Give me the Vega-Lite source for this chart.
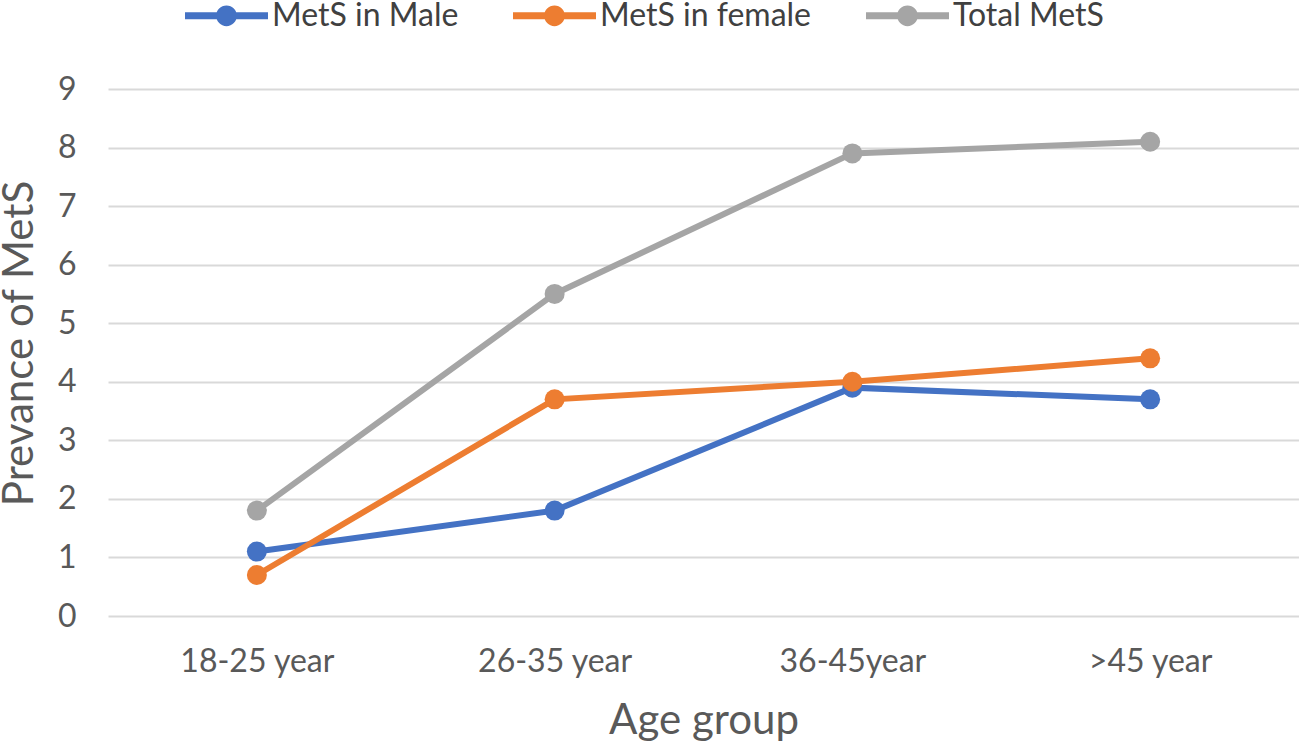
{
  "$schema": "https://vega.github.io/schema/vega-lite/v6.json",
  "autosize": "none",
  "width": 1191,
  "height": 527,
  "padding": {"left": 108, "top": 89, "right": 0, "bottom": 128},
  "background": "white",
  "data": {
    "values": [
      {"age": "18-25 year", "series": "MetS in Male", "value": 1.1},
      {"age": "26-35 year", "series": "MetS in Male", "value": 1.8},
      {"age": "36-45year", "series": "MetS in Male", "value": 3.9},
      {"age": ">45 year", "series": "MetS in Male", "value": 3.7},
      {"age": "18-25 year", "series": "MetS in female", "value": 0.7},
      {"age": "26-35 year", "series": "MetS in female", "value": 3.7},
      {"age": "36-45year", "series": "MetS in female", "value": 4.0},
      {"age": ">45 year", "series": "MetS in female", "value": 4.4},
      {"age": "18-25 year", "series": "Total MetS", "value": 1.8},
      {"age": "26-35 year", "series": "Total MetS", "value": 5.5},
      {"age": "36-45year", "series": "Total MetS", "value": 7.9},
      {"age": ">45 year", "series": "Total MetS", "value": 8.1}
    ]
  },
  "mark": {
    "type": "line",
    "strokeWidth": 6,
    "strokeCap": "round",
    "point": {"filled": true, "size": 400, "opacity": 1}
  },
  "encoding": {
    "x": {
      "field": "age",
      "type": "nominal",
      "sort": ["18-25 year", "26-35 year", "36-45year", ">45 year"],
      "title": "Age group",
      "axis": {
        "labelAngle": 0,
        "labelPadding": 30,
        "titlePadding": 23,
        "domain": false,
        "ticks": false,
        "grid": false
      }
    },
    "y": {
      "field": "value",
      "type": "quantitative",
      "title": "Prevance of MetS",
      "scale": {"domain": [0, 9], "nice": false},
      "axis": {
        "values": [0, 1, 2, 3, 4, 5, 6, 7, 8, 9],
        "labelPadding": 32,
        "titlePadding": 16,
        "titleY": 254,
        "domain": false,
        "ticks": false,
        "grid": true,
        "gridColor": "#D9D9D9",
        "gridWidth": 2
      }
    },
    "color": {
      "field": "series",
      "type": "nominal",
      "sort": ["MetS in Male", "MetS in female", "Total MetS"],
      "scale": {
        "domain": ["MetS in Male", "MetS in female", "Total MetS"],
        "range": ["#4472C4", "#ED7D31", "#A5A5A5"]
      },
      "legend": {
        "title": null,
        "orient": "none",
        "direction": "horizontal",
        "legendX": 77,
        "legendY": -115,
        "symbolType": "M-1,-0.085H1V0.085H-1Z M0.25,0A0.25,0.25 0 1,1 -0.25,0A0.25,0.25 0 1,1 0.25,0Z",
        "symbolSize": 6889,
        "symbolStrokeWidth": 0,
        "symbolOpacity": 1,
        "labelOffset": 4,
        "columnPadding": 54,
        "labelFontSize": 32,
        "labelColor": "#404040",
        "labelLimit": 400
      }
    }
  },
  "config": {
    "font": "Lato",
    "view": {"stroke": null},
    "axis": {
      "labelFontSize": 32,
      "labelColor": "#595959",
      "titleFontSize": 42,
      "titleFontWeight": "normal",
      "titleColor": "#595959"
    }
  }
}
